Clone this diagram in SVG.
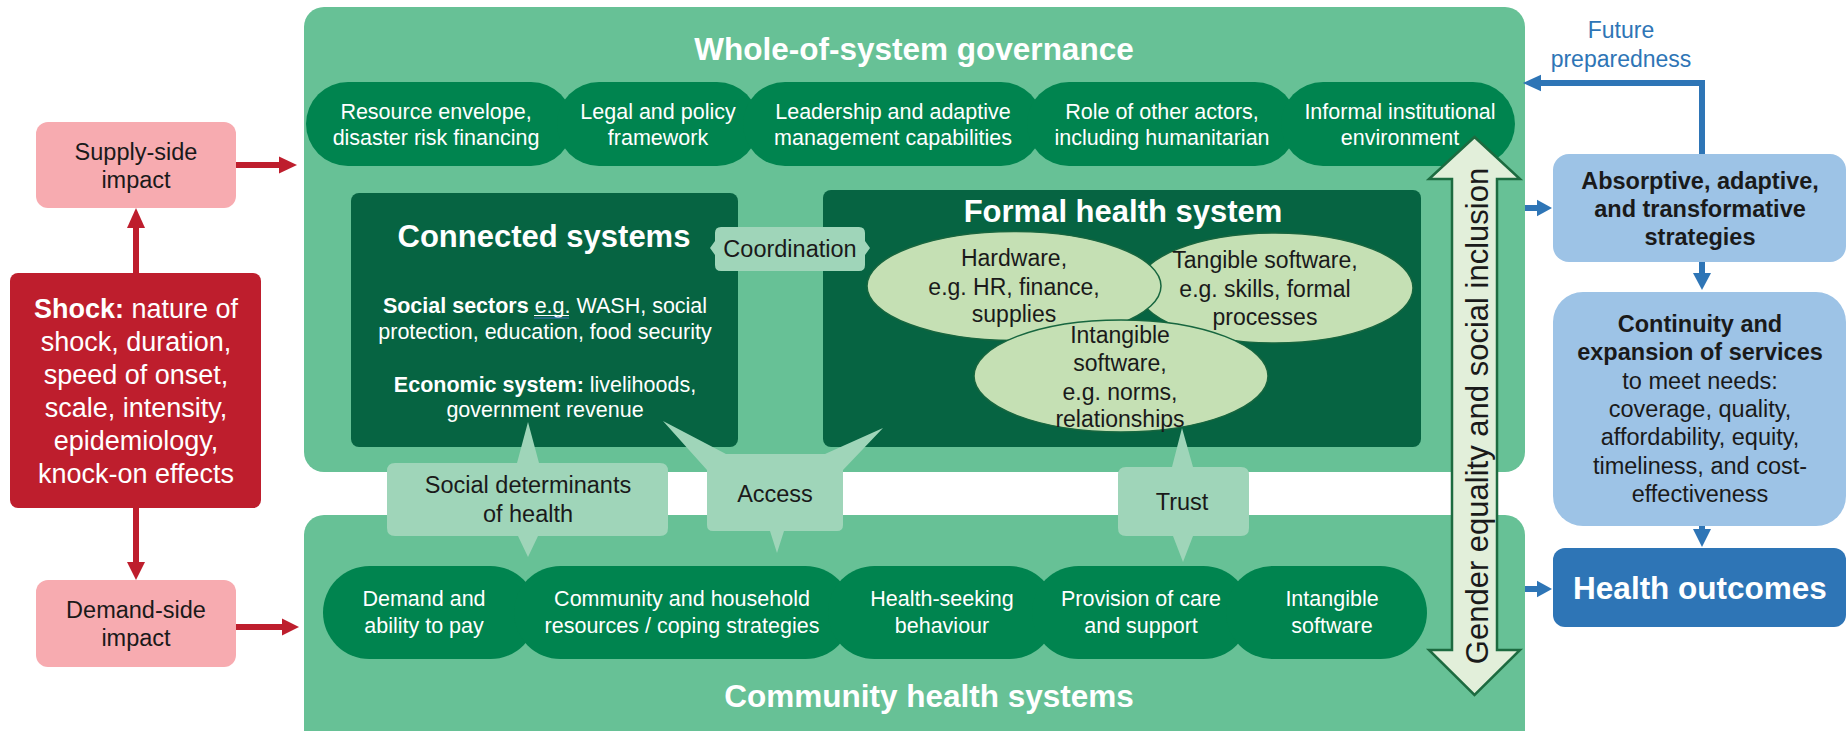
<svg xmlns="http://www.w3.org/2000/svg" width="1847" height="731" viewBox="0 0 1847 731">
<style>
  text { font-family: "Liberation Sans", Arial, sans-serif; text-anchor: middle; }
  .w { fill: #ffffff; }
  .k { fill: #1a1a1a; }
  .bd { font-weight: bold; }
  .t31 { font-size: 31.5px; font-weight: bold; }
  .t23 { font-size: 23.5px; }
  .t22 { font-size: 21.5px; }
  .t27 { font-size: 27px; }
  .ell-t { font-size: 23px; fill: #1a1a1a; }
  .panel { fill: #67c196; }
  .pill { fill: #00844f; }
  .dark { fill: #066442; }
  .call { fill: #9fd5b9; }
  .ell { fill: #c5e0b4; stroke: #17663f; stroke-width: 1.5; }
  .pink { fill: #f7abb0; }
  .shock { fill: #be1e2d; }
  .lblue { fill: #9dc3e6; }
  .dblue { fill: #2e75b6; }
  .rl { stroke: #be1e2d; stroke-width: 6; fill: none; }
  .rh { fill: #be1e2d; }
  .bl { stroke: #2e75b6; stroke-width: 6; fill: none; }
  .bh { fill: #2e75b6; }
</style>

<!-- background panels -->
<g id="governance-panel">
  <rect class="panel" x="304" y="7" width="1221" height="465" rx="20"/>
  <text class="w t31" x="914" y="60">Whole-of-system governance</text>
</g>
<g id="community-panel">
  <rect class="panel" x="304" y="515" width="1221" height="240" rx="20"/>
  <text class="w t31" x="929" y="707">Community health systems</text>
</g>

<!-- governance pills -->
<g id="gov-resource">
  <rect class="pill" x="306" y="82" width="267" height="84" rx="42"/>
  <text class="w t22" x="436" y="119">Resource envelope,<tspan x="436" dy="26">disaster risk financing</tspan></text>
</g>
<g id="gov-legal">
  <rect class="pill" x="557" y="82" width="202" height="84" rx="42"/>
  <text class="w t22" x="658" y="119">Legal and policy<tspan x="658" dy="26">framework</tspan></text>
</g>
<g id="gov-leadership">
  <rect class="pill" x="743" y="82" width="300" height="84" rx="42"/>
  <text class="w t22" x="893" y="119">Leadership and adaptive<tspan x="893" dy="26">management capabilities</tspan></text>
</g>
<g id="gov-actors">
  <rect class="pill" x="1027" y="82" width="270" height="84" rx="42"/>
  <text class="w t22" x="1162" y="119">Role of other actors,<tspan x="1162" dy="26">including humanitarian</tspan></text>
</g>
<g id="gov-informal">
  <rect class="pill" x="1281" y="82" width="234" height="84" rx="42"/>
  <text class="w t22" x="1400" y="119">Informal institutional<tspan x="1400" dy="26">environment</tspan></text>
</g>

<!-- connected systems -->
<g id="connected-systems">
  <rect class="dark" x="351" y="193" width="387" height="254" rx="8"/>
  <text class="w" x="544" y="247" style="font-size:31px;font-weight:bold">Connected systems</text>
  <text class="w t22" x="545" y="313"><tspan class="bd">Social sectors </tspan>e.g. WASH, social<tspan x="545" dy="26">protection, education, food security</tspan></text>
  <line x1="534" y1="315.5" x2="569" y2="315.5" stroke="#ffffff" stroke-width="1"/>
  <line x1="534" y1="318" x2="569" y2="318" stroke="#4472c4" stroke-width="1.2"/>
  <text class="w t22" x="545" y="392"><tspan class="bd">Economic system:</tspan> livelihoods,<tspan x="545" dy="25">government revenue</tspan></text>
</g>

<!-- formal health system -->
<g id="formal-health-system">
  <rect class="dark" x="823" y="190" width="598" height="257" rx="8"/>
  <text class="w" x="1123" y="222" style="font-size:31px;font-weight:bold">Formal health system</text>
  <ellipse class="ell" cx="1275" cy="288" rx="138" ry="55"/>
  <ellipse class="ell" cx="1014" cy="286" rx="147" ry="54.5"/>
  <ellipse class="ell" cx="1121" cy="376" rx="147" ry="56"/>
  <text class="ell-t" x="1014" y="266">Hardware,<tspan x="1014" dy="28.5">e.g. HR, finance,</tspan><tspan x="1014" dy="27.5">supplies</tspan></text>
  <text class="ell-t" x="1265" y="268">Tangible software,<tspan x="1265" dy="28.5">e.g. skills, formal</tspan><tspan x="1265" dy="28">processes</tspan></text>
  <text class="ell-t" x="1120" y="343">Intangible<tspan x="1120" dy="28">software,</tspan><tspan x="1120" dy="29">e.g. norms,</tspan><tspan x="1120" dy="27">relationships</tspan></text>
</g>

<!-- community pills -->
<g id="com-demand">
  <rect class="pill" x="323" y="566" width="214" height="93" rx="46.5"/>
  <text class="w t22" x="424" y="606">Demand and<tspan x="424" dy="27">ability to pay</tspan></text>
</g>
<g id="com-resources">
  <rect class="pill" x="514" y="566" width="338" height="93" rx="46.5"/>
  <text class="w t22" x="682" y="606">Community and household<tspan x="682" dy="27">resources / coping strategies</tspan></text>
</g>
<g id="com-seeking">
  <rect class="pill" x="828" y="566" width="228" height="93" rx="46.5"/>
  <text class="w t22" x="942" y="606">Health-seeking<tspan x="942" dy="27">behaviour</tspan></text>
</g>
<g id="com-provision">
  <rect class="pill" x="1032" y="566" width="218" height="93" rx="46.5"/>
  <text class="w t22" x="1141" y="606">Provision of care<tspan x="1141" dy="27">and support</tspan></text>
</g>
<g id="com-intangible">
  <rect class="pill" x="1226" y="566" width="201" height="93" rx="46.5"/>
  <text class="w t22" x="1332" y="606">Intangible<tspan x="1332" dy="27">software</tspan></text>
</g>

<!-- linking callouts -->
<g id="coordination">
  <path class="call" d="M721,227 L859,227 Q865,227 865,233 L865,241 L870,248 L865,255 L865,265 Q865,271 859,271 L721,271 Q715,271 715,265 L715,255 L710,248 L715,241 L715,233 Q715,227 721,227 Z"/>
  <text class="k t23" x="790" y="257">Coordination</text>
</g>
<g id="social-determinants">
  <path class="call" d="M395,463 L517,463 L528,422 L539,463 L660,463 Q668,463 668,471 L668,528 Q668,536 660,536 L538,536 L528,557 L518,536 L395,536 Q387,536 387,528 L387,471 Q387,463 395,463 Z"/>
  <text class="k t23" x="528" y="493">Social determinants<tspan x="528" dy="29">of health</tspan></text>
</g>
<g id="access">
  <path class="call" d="M726,454 L825,454 L883,428 L843,470 L843,525 Q843,531 837,531 L784,531 L777,553 L770,531 L713,531 Q707,531 707,525 L707,470 L663,421 Z"/>
  <text class="k t23" x="775" y="502">Access</text>
</g>
<g id="trust">
  <path class="call" d="M1126,467 L1172,467 L1182,428 L1193,467 L1241,467 Q1249,467 1249,475 L1249,528 Q1249,536 1241,536 L1193,536 L1183,562 L1173,536 L1126,536 Q1118,536 1118,528 L1118,475 Q1118,467 1126,467 Z"/>
  <text class="k t23" x="1182" y="510">Trust</text>
</g>

<!-- cross-cutting theme -->
<g id="gender-equality">
  <polygon points="1474.5,137 1520,179 1497,179 1497,650 1520,650 1474.5,695 1429,650 1452,650 1452,179 1429,179" fill="#e2efda" stroke="#1d6b40" stroke-width="2.5"/>
  <text class="k" transform="translate(1488,416) rotate(-90)" style="font-size:31px">Gender equality and social inclusion</text>
</g>

<!-- shock and impacts -->
<g id="supply-side">
  <rect class="pink" x="36" y="122" width="200" height="86" rx="12"/>
  <text class="k t23" x="136" y="160">Supply-side<tspan x="136" dy="28">impact</tspan></text>
</g>
<g id="shock">
  <rect class="shock" x="10" y="273" width="251" height="235" rx="8"/>
  <text class="w t27" x="136" y="318"><tspan class="bd">Shock:</tspan> nature of<tspan x="136" dy="33">shock, duration,</tspan><tspan x="136" dy="33">speed of onset,</tspan><tspan x="136" dy="33">scale, intensity,</tspan><tspan x="136" dy="33">epidemiology,</tspan><tspan x="136" dy="33">knock-on effects</tspan></text>
</g>
<g id="demand-side">
  <rect class="pink" x="36" y="580" width="200" height="87" rx="12"/>
  <text class="k t23" x="136" y="618">Demand-side<tspan x="136" dy="28">impact</tspan></text>
</g>

<!-- outcomes -->
<g id="future-preparedness">
  <text class="t23" x="1621" y="38" style="fill:#2e75b6;font-size:23px">Future<tspan x="1621" dy="29">preparedness</tspan></text>
</g>
<g id="strategies">
  <rect class="lblue" x="1553" y="154" width="293" height="108" rx="16"/>
  <text class="k t23 bd" x="1700" y="189">Absorptive, adaptive,<tspan x="1700" dy="28">and transformative</tspan><tspan x="1700" dy="28">strategies</tspan></text>
</g>
<g id="continuity">
  <rect class="lblue" x="1553" y="292" width="293" height="234" rx="30"/>
  <text class="k t23" x="1700" y="332"><tspan class="bd">Continuity and</tspan><tspan class="bd" x="1700" dy="28.3">expansion of services</tspan><tspan x="1700" dy="28.3">to meet needs:</tspan><tspan x="1700" dy="28.3">coverage, quality,</tspan><tspan x="1700" dy="28.3">affordability, equity,</tspan><tspan x="1700" dy="28.3">timeliness, and cost-</tspan><tspan x="1700" dy="28.3">effectiveness</tspan></text>
</g>
<g id="health-outcomes">
  <rect class="dblue" x="1553" y="548" width="293" height="79" rx="12"/>
  <text class="w t31" x="1700" y="599">Health outcomes</text>
</g>

<!-- connectors -->
<g id="connectors">
  <line class="rl" x1="236" y1="165" x2="281" y2="165"/>
  <polygon class="rh" points="279,156.5 297,165 279,173.5"/>
  <line class="rl" x1="136" y1="273" x2="136" y2="226"/>
  <polygon class="rh" points="127,228 136,208 145,228"/>
  <line class="rl" x1="136" y1="508" x2="136" y2="564"/>
  <polygon class="rh" points="127,562 136,580 145,562"/>
  <line class="rl" x1="236" y1="627" x2="284" y2="627"/>
  <polygon class="rh" points="282,618.5 299,627 282,635.5"/>

  <path class="bl" d="M1702,154 L1702,83 L1539,83"/>
  <polygon class="bh" points="1541,74.7 1523,83 1541,91.3"/>
  <line class="bl" x1="1525" y1="208" x2="1539" y2="208"/>
  <polygon class="bh" points="1537,199.7 1552,208 1537,216.3"/>
  <line class="bl" x1="1702" y1="262" x2="1702" y2="275"/>
  <polygon class="bh" points="1693,273 1702,290 1711,273"/>
  <line class="bl" x1="1702" y1="526" x2="1702" y2="531"/>
  <polygon class="bh" points="1693,529 1702,547 1711,529"/>
  <line class="bl" x1="1525" y1="589" x2="1539" y2="589"/>
  <polygon class="bh" points="1537,580.7 1552,589 1537,597.3"/>
</g>
</svg>
